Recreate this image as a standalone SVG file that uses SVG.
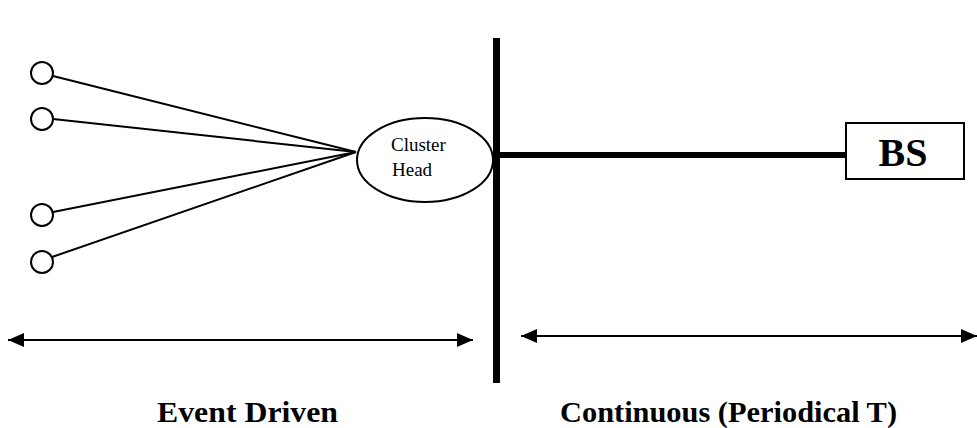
<svg xmlns="http://www.w3.org/2000/svg" width="977" height="428" viewBox="0 0 977 428">
  <defs>
    <marker id="ah" viewBox="0 0 16 14" refX="16" refY="7" markerWidth="16" markerHeight="14" markerUnits="userSpaceOnUse" orient="auto-start-reverse">
      <path d="M0,0 L16,7 L0,14 Z" fill="#000"/>
    </marker>
    <style>
      .thin { stroke: #000; stroke-width: 2; fill: none; }
      .node { fill: #fff; stroke: #000; stroke-width: 2; }
      .bold { stroke: #000; fill: none; }
      .lbl { font-family: "Liberation Serif", "Times New Roman", serif; fill: #000; }
      .cap { font-family: "Liberation Serif", "Times New Roman", serif; font-weight: bold; font-size: 29.5px; fill: #000; }
    </style>
  </defs>
  <rect width="977" height="428" fill="#fff"/>

  <g id="connectors">
    <line class="thin" x1="53" y1="76" x2="356" y2="152"/>
    <line class="thin" x1="53" y1="119" x2="356" y2="152"/>
    <line class="thin" x1="53" y1="212" x2="356" y2="152"/>
    <line class="thin" x1="52" y1="257" x2="356" y2="152"/>
    <line class="bold" x1="498" y1="155" x2="846" y2="155" stroke-width="6"/>
    <line class="thin" x1="8" y1="340" x2="473" y2="340" marker-start="url(#ah)" marker-end="url(#ah)"/>
    <line class="thin" x1="521" y1="336" x2="977" y2="336" marker-start="url(#ah)" marker-end="url(#ah)"/>
  </g>

  <g id="sensor1"><circle class="node" cx="42" cy="73" r="11"/></g>
  <g id="sensor2"><circle class="node" cx="42" cy="119" r="11"/></g>
  <g id="sensor3"><circle class="node" cx="42" cy="215" r="11"/></g>
  <g id="sensor4"><circle class="node" cx="42" cy="262" r="11"/></g>

  <g id="cluster-head">
    <ellipse class="node" cx="425" cy="160" rx="68" ry="42"/>
    <text class="lbl" x="391" y="151" font-size="19">Cluster</text>
    <text class="lbl" x="392" y="176" font-size="19">Head</text>
  </g>

  <g id="divider">
    <line class="bold" x1="496.5" y1="38" x2="496.5" y2="383" stroke-width="7"/>
  </g>

  <g id="base-station">
    <rect class="node" x="846" y="123" width="118" height="56"/>
    <text class="lbl" x="903" y="166" font-size="40" font-weight="bold" text-anchor="middle">BS</text>
  </g>

  <g id="labels">
    <text class="cap" x="157" y="422" textLength="181" lengthAdjust="spacingAndGlyphs">Event  Driven</text>
    <text class="cap" x="560" y="422" textLength="337" lengthAdjust="spacingAndGlyphs">Continuous (Periodical T)</text>
  </g>
</svg>
